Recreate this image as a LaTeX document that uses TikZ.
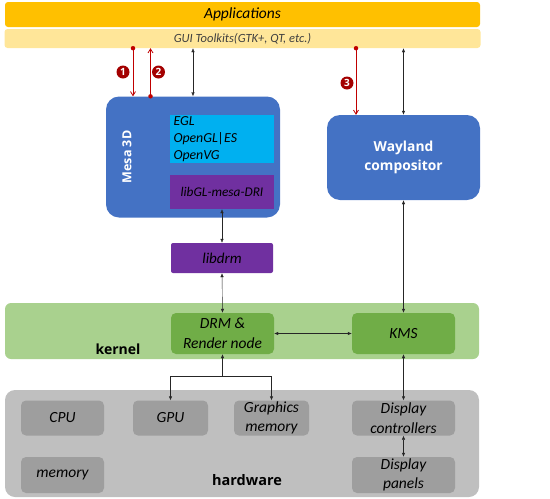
\documentclass[tikz,border=0pt]{standalone}
\usepackage{fontspec}
\setmainfont{Carlito}
\newfontfamily\headfont{Open Sans}
\usetikzlibrary{arrows.meta}
\usetikzlibrary{calc}
\tikzset{>={Latex[length=4pt,width=3.4pt]}}
\definecolor{appyellow}{RGB}{255,192,0}
\definecolor{guiyellow}{RGB}{255,230,153}
\definecolor{mesablue}{RGB}{68,114,196}
\definecolor{eglblue}{RGB}{0,176,240}
\definecolor{libpurple}{RGB}{112,48,160}
\definecolor{kernelgreen}{RGB}{169,209,142}
\definecolor{drmgreen}{RGB}{112,173,71}
\definecolor{hwgray}{RGB}{191,191,191}
\definecolor{hwbox}{RGB}{158,158,158}
\definecolor{stepred}{RGB}{192,0,0}
\tikzset{
  layer/.style={draw=none, rounded corners=6pt, inner sep=0pt},
  block/.style={draw=none, rounded corners=5pt, inner sep=0pt, align=center, font=\itshape\fontsize{15.5}{19.5}\selectfont},
  bigblock/.style={draw=none, rounded corners=13pt, inner sep=0pt, fill=mesablue},
  redarrow/.style={draw=stepred, thick, -{Straight Barb[length=4pt,width=5pt]}},
  reddot/.style={circle, fill=stepred, inner sep=0pt, minimum size=4.5pt},
  stepnum/.style={circle, fill=stepred!85!black, text=white, inner sep=0pt, minimum size=13pt, font=\headfont\bfseries\fontsize{10}{10}\selectfont},
  link/.style={draw=black!85, thin, <->}
}

\begin{document}
\begin{tikzpicture}[x=1pt, y=-1pt]
  \useasboundingbox (0,0) rectangle (550,499);
  % top layers
  \node[layer, rounded corners=3pt, fill=appyellow, minimum width=475pt, minimum height=25pt, font=\itshape\fontsize{15.5}{17}\selectfont] (apps) at (242.5,14.5) {Applications};
  \node[layer, rounded corners=3pt, fill=guiyellow, minimum width=476pt, minimum height=19pt, text=black!75, font=\itshape\fontsize{12.5}{14}\selectfont] (gui) at (242.5,38.5) {GUI Toolkits(GTK+, QT, etc.)};
  % user space
  \node[bigblock, minimum width=174pt, minimum height=121pt] (mesa) at (193,157) {};
  \node[rotate=90, text=white, font=\headfont\bfseries\fontsize{12.5}{14}\selectfont] (mesalabel) at (127,157) {Mesa 3D};
  \node[block, rounded corners=0pt, fill=eglblue, minimum width=104pt, minimum height=48pt, align=left, text width=97pt, font=\itshape\fontsize{13.8}{17}\selectfont] (egl) at (222,139) {EGL\\OpenGL|ES\\OpenVG};
  \node[block, rounded corners=0pt, fill=libpurple, minimum width=104pt, minimum height=34pt, font=\itshape\fontsize{13.3}{15}\selectfont] (libgl) at (222,192) {libGL-mesa-DRI};
  \node[block, rounded corners=2pt, fill=libpurple, minimum width=102pt, minimum height=30pt, font=\itshape\fontsize{15}{17}\selectfont] (libdrm) at (222,258) {libdrm};
  \node[bigblock, minimum width=153pt, minimum height=85pt, text=white, align=center, font=\headfont\bfseries\fontsize{13.8}{19}\selectfont] (wayland) at (403.5,157.5) {Wayland\\compositor};
  % kernel
  \node[layer, fill=kernelgreen, minimum width=474pt, minimum height=56pt] (kernel) at (242,331) {};
  \node[font=\headfont\bfseries\fontsize{14}{16}\selectfont] (kernellabel) at (118,349) {kernel};
  \node[block, fill=drmgreen, minimum width=103pt, minimum height=41pt] (drm) at (222.5,333.5) {DRM \&\\Render node};
  \node[block, fill=drmgreen, minimum width=103pt, minimum height=41pt] (kms) at (403.5,333.5) {KMS};
  % hardware
  \node[layer, rounded corners=10pt, fill=hwgray, minimum width=474pt, minimum height=107pt] (hw) at (242,443.5) {};
  \node[font=\headfont\bfseries\fontsize{14.5}{16}\selectfont] (hwlabel) at (247,480) {hardware};
  \node[block, fill=hwbox, minimum width=83pt, minimum height=35pt] (cpu) at (62.5,418) {CPU};
  \node[block, fill=hwbox, minimum width=75pt, minimum height=35pt] (gpu) at (170.5,418) {GPU};
  \node[block, fill=hwbox, minimum width=75pt, minimum height=35pt] (gmem) at (271.5,418) {Graphics\\memory};
  \node[block, fill=hwbox, minimum width=103pt, minimum height=35pt] (dctrl) at (403.5,418) {Display\\controllers};
  \node[block, fill=hwbox, minimum width=83pt, minimum height=36pt] (mem) at (62.5,475) {memory};
  \node[block, fill=hwbox, minimum width=103pt, minimum height=36pt] (dpanel) at (403.5,475) {Display\\panels};

  % red steps
  \coordinate (s1) at (133,0);
  \coordinate (s2) at (150.5,0);
  \coordinate (s3) at (356,0);
  \node[reddot] (dot1) at (gui.south -| s1) {};
  \draw[redarrow] (dot1.center) -- (mesa.north -| s1);
  \node[reddot] (dot2) at (mesa.north -| s2) {};
  \draw[redarrow] (dot2.center) -- (gui.south -| s2);
  \node[reddot] (dot3) at (gui.south -| s3) {};
  \draw[redarrow] (dot3.center) -- (wayland.north -| s3);
  \node[stepnum] (n1) at (123,72) {1};
  \node[stepnum] (n2) at (158.5,72) {2};
  \node[stepnum] (n3) at (347,83) {3};

  % links
  \coordinate (k1) at (193,0);
  \draw[link] (gui.south -| k1) -- (mesa.north -| k1);
  \draw[link] (gui.south -| wayland.north) -- (wayland.north);
  \draw[link] (libgl.south) -- (libdrm.north);
  \draw[link] (libdrm.south) -- (drm.north);
  \draw[link] (wayland.south) -- (kms.north);
  \draw[link] (drm.east) -- (kms.west);
  \coordinate (split) at ($(drm.south)+(0,22)$);
  \draw[->, draw=black!85, thin] (split) -- (drm.south);
  \draw[->, draw=black!85, thin] (split) -| (gpu.north);
  \draw[->, draw=black!85, thin] (split) -| (gmem.north);
  \draw[link] (kms.south) -- (dctrl.north);
  \draw[link] (dctrl.south) -- (dpanel.north);
\end{tikzpicture}
\end{document}
